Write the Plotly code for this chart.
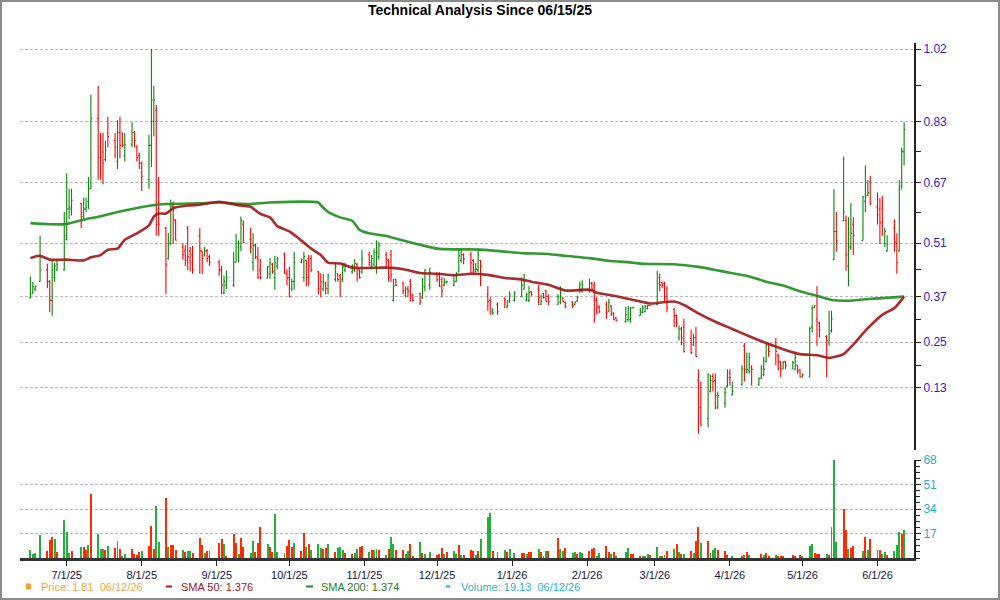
import pandas as pd
import plotly.graph_objects as go

# ---------------- data ----------------
holidays = ["2025-06-19", "2025-07-04", "2025-09-01", "2025-11-27", "2025-12-25",
            "2026-01-01", "2026-01-19", "2026-02-16", "2026-04-03", "2026-05-25"]
dates = pd.bdate_range("2025-06-16", "2026-06-12", freq="C", holidays=holidays)

opens = [
    .366, .38, .39, .41, .44, .41, .36, .42, .44, .44,  # Jun
    .52, .60, .60, .615, .58, .60, .62, .653, .838, .76, .75, .73, .80, .78, .725, .80, .80, .74, .77, .80, .765, .74,  # Jul
    .72, .677, .767, .83, .86, .60, .55, .47, .51, .607, .57, .50, .49, .55, .49, .48, .53, .49, .48, .49, .475,  # Aug
    .46, .44, .38, .40, .40, .46, .50, .50, .56, .52, .46, .505, .47, .44, .419, .43, .455, .42, .45, .48, .43,  # Sep
    .42, .39, .41, .46, .42, .465, .47, .47, .435, .43, .39, .405, .39, .415, .43, .425, .415, .44, .435, .44, .455, .44, .435,  # Oct
    .48, .45, .455, .45, .475, .48, .465, .48, .36, .415, .405, .372, .39, .41, .375, .378, .366, .395, .40,  # Nov
    .43, .43, .415, .40, .407, .40, .41, .435, .465, .48, .48, .465, .435, .44, .465, .376, .36, .325, .35, .365, .342, .356,  # Dec
    .36, .37, .39, .36, .36, .383, .39, .35, .378, .385, .37, .35, .355, .366, .355, .356, .349, .358, .382, .385,  # Jan
    .385, .405, .40, .36, .343, .35, .332, .345, .327, .314, .305, .31, .31, .34, .32, .328, .33, .338, .346,  # Feb
    .35, .42, .407, .405, .39, .336, .32, .262, .285, .29, .26, .245, .262, .15, .078, .05, .121, .16, .15, .08, .09, .135,  # Mar
    .17, .112, .14, .24, .17, .175, .185, .14, .156, .165, .20, .245, .25, .215, .20, .18, .20, .18, .18, .19, .178,  # Apr
    .159, .159, .29, .341, .311, .30, .265, .25, .28, .467, .541, .569, .57, .45, .50, .56, .517, .62, .636, .671,  # May
    .606, .60, .60, .51, .49, .55, .51, .49, .66, .75,  # Jun
]
highs = [
    .423, .409, .40, .53, .456, .413, .467, .459, .468, .592,
    .693, .653, .653, .616, .63, .63, .684, .90, .923, .80, .80, .78, .842, .80, .833, .842, .80, .80, .828, .805, .767, .748,
    .725, .795, 1.02, .923, .873, .684, .553, .537, .625, .62, .573, .51, .505, .555, .50, .503, .55, .49, .50, .495, .48,
    .467, .45, .425, .438, .488, .535, .517, .58, .57, .55, .536, .508, .50, .469, .45, .471, .459, .477, .475, .486, .442,
    .448, .417, .488, .47, .488, .467, .479, .479, .438, .43, .43, .409, .43, .459, .43, .43, .459, .459, .455, .469, .459, .442, .492,
    .488, .479, .496, .517, .513, .488, .469, .492, .417, .417, .409, .397, .397, .417, .376, .38, .419, .442, .446,
    .434, .434, .421, .419, .412, .426, .434, .496, .494, .484, .488, .469, .459, .496, .467, .397, .368, .34, .355, .368, .361, .384,
    .384, .421, .43, .38, .397, .384, .401, .376, .38, .388, .376, .376, .397, .368, .357, .357, .357, .372, .409, .413,
    .417, .409, .409, .368, .347, .357, .364, .347, .329, .315, .343, .345, .343, .343, .34, .347, .348, .348, .348,
    .438, .43, .409, .409, .397, .34, .323, .294, .29, .312, .283, .273, .29, .179, .147, .168, .165, .168, .168, .121, .132, .179,
    .179, .147, .19, .248, .223, .223, .19, .158, .19, .212, .251, .248, .262, .219, .201, .201, .201, .201, .219, .19, .179,
    .168, .29, .347, .347, .397, .304, .269, .333, .333, .652, .592, .738, .583, .578, .615, .578, .634, .714, .676, .687,
    .643, .629, .634, .55, .531, .573, .536, .676, .761, .828,
]
lows = [
    .366, .376, .384, .409, .392, .329, .32, .409, .438, .438,
    .517, .574, .583, .55, .574, .592, .60, .653, .677, .677, .665, .725, .762, .733, .705, .733, .762, .725, .762, .762, .725, .705,
    .647, .653, .71, .79, .53, .53, .376, .467, .505, .509, .517, .467, .45, .44, .436, .43, .43, .43, .475, .46, .45,
    .425, .376, .376, .39, .396, .46, .46, .49, .51, .484, .438, .469, .417, .415, .417, .417, .43, .388, .442, .43, .40,
    .368, .384, .388, .458, .409, .397, .397, .434, .376, .368, .384, .376, .376, .409, .409, .368, .409, .434, .43, .434, .409, .417, .43,
    .45, .442, .45, .43, .467, .446, .409, .409, .357, .397, .376, .368, .368, .357, .357, .348, .364, .384, .388,
    .409, .395, .368, .397, .405, .397, .409, .434, .459, .455, .43, .43, .434, .434, .397, .333, .322, .322, .322, .34, .34, .354,
    .357, .368, .388, .357, .356, .372, .347, .348, .364, .357, .347, .348, .35, .355, .34, .34, .348, .357, .38, .38,
    .38, .384, .301, .323, .326, .312, .329, .319, .308, .306, .301, .304, .301, .339, .319, .326, .329, .336, .345,
    .347, .384, .392, .357, .329, .29, .29, .255, .242, .223, .219, .24, .212, .01, .031, .027, .118, .121, .074, .074, .078, .132,
    .136, .11, .136, .147, .168, .168, .136, .136, .154, .161, .197, .212, .19, .176, .158, .179, .179, .179, .176, .168, .158,
    .158, .158, .276, .34, .241, .262, .158, .241, .276, .467, .488, .569, .438, .397, .492, .479, .517, .592, .634, .61,
    .559, .508, .531, .50, .488, .488, .43, .488, .652, .714,
]
closes = [
    .376, .396, .396, .438, .41, .36, .44, .45, .455, .53,
    .60, .605, .623, .59, .60, .605, .653, .838, .736, .736, .72, .755, .79, .762, .80, .767, .767, .768, .80, .78, .735, .72,
    .686, .767, .886, .886, .56, .56, .455, .51, .607, .573, .518, .48, .465, .475, .46, .44, .49, .47, .49, .47, .46,
    .44, .40, .41, .42, .46, .51, .51, .57, .512, .50, .505, .475, .42, .419, .448, .459, .435, .459, .469, .432, .419,
    .37, .409, .459, .467, .475, .42, .45, .44, .39, .409, .409, .392, .426, .45, .415, .409, .448, .45, .45, .457, .43, .42, .469,
    .459, .47, .485, .486, .505, .469, .42, .427, .397, .40, .385, .39, .384, .376, .36, .356, .397, .44, .434,
    .415, .397, .385, .409, .409, .409, .43, .477, .48, .469, .459, .44, .442, .48, .45, .357, .33, .329, .33, .361, .347, .375,
    .38, .40, .41, .376, .38, .375, .368, .357, .368, .358, .357, .37, .38, .357, .343, .345, .355, .368, .401, .401,
    .405, .39, .364, .34, .33, .329, .355, .325, .309, .307, .323, .34, .34, .342, .33, .34, .345, .347, .348,
    .405, .40, .40, .37, .34, .32, .30, .285, .262, .226, .223, .262, .213, .08, .032, .165, .15, .147, .11, .11, .118, .157,
    .157, .121, .18, .179, .179, .21, .179, .155, .18, .179, .241, .226, .226, .197, .18, .197, .19, .197, .21, .175, .159,
    .165, .287, .34, .346, .304, .283, .255, .273, .311, .541, .517, .592, .479, .50, .536, .531, .632, .634, .643, .615,
    .585, .564, .532, .541, .508, .513, .459, .652, .752, .809,
]
volumes = [
    5.6, 2.6, 3.3, 16.0, 4.9, 12.6, 14.4, 13.3, 4.0, 26.6,
    17.9, 3.3, 4.9, 7.5, 7.5, 5.6, 9.1, 44.7, 16.8, 6.3, 6.3, 5.6, 8.4, 6.8, 11.9, 6.3, 1.4, 2.8, 6.3, 2.8, 2.1, 4.4,
    4.9, 8.4, 22.4, 6.3, 36.3, 11.0, 41.7, 7.5, 9.1, 9.1, 5.6, 5.6, 4.0, 4.9, 4.9, 3.3, 13.7, 9.1, 3.3, 4.9, 4.9,
    10.3, 13.3, 9.6, 1.6, 16.8, 10.3, 2.8, 13.7, 7.5, 3.3, 11.9, 4.0, 10.3, 21.4, 9.6, 7.5, 4.0, 30.8, 4.0, 3.3, 8.6,
    12.6, 7.5, 10.3, 4.9, 17.2, 7.5, 9.6, 5.6, 9.6, 6.8, 6.3, 6.8, 9.6, 4.0, 6.8, 7.5, 5.6, 3.3, 2.8, 3.3, 6.3, 7.5, 8.4,
    4.0, 5.6, 5.6, 6.3, 5.6, 2.1, 6.3, 14.4, 9.6, 5.6, 5.6, 2.8, 4.9, 9.6, 1.4, 11.0, 3.3, 2.8, 4.0,
    2.1, 2.8, 6.8, 2.8, 4.0, 4.9, 2.8, 9.1, 2.1, 2.1, 5.6, 4.9, 2.1, 4.9, 13.0, 28.4, 31.2, 4.9, 4.0, 5.6, 4.0, 6.1,
    3.3, 3.3, 3.3, 2.6, 4.0, 4.0, 6.1, 4.4, 1.4, 4.9, 4.9, 13.7, 6.1, 4.9, 6.8, 3.3, 4.0, 2.6, 4.0, 3.3,
    4.9, 6.1, 6.8, 1.6, 3.3, 8.2, 4.0, 2.8, 4.0, 1.6, 4.0, 6.8, 2.6, 2.6, 1.4, 1.4, 1.4, 2.6, 2.1,
    7.5, 1.4, 1.4, 2.1, 4.9, 6.3, 9.6, 4.0, 2.6, 2.8, 4.9, 3.3, 11.9, 21.4, 10.3, 11.9, 3.3, 5.6, 6.8, 5.6, 4.9, 2.1,
    0.0, 0.9, 1.4, 2.1, 4.0, 2.1, 0.0, 0.0, 2.6, 2.1, 3.3, 1.4, 2.1, 1.4, 1.4, 1.4, 0.0, 2.1, 1.4, 0.0, 2.1,
    1.4, 8.4, 9.6, 3.7, 2.6, 2.6, 2.6, 2.1, 21.4, 68.0, 11.0, 34.0, 19.6, 6.3, 6.8, 8.2, 4.9, 14.4, 5.6, 13.0,
    5.6, 5.6, 2.8, 4.0, 2.1, 4.9, 9.1, 17.9, 16.5, 19.13,
]
# volume bar direction as coloured in the picture (g = up, r = down), one month per chunk
volume_direction = ("ggggrrrgrg" "ggrgrrgrgggrgrgrggrrrr" "grrrggrgrrrgrggrrrgrg"
                    "rrgrrrgrrggrrrgrrgggr" "rrgrrgrgggrrgrgggrrggrr" "grggrgrggrrggrrgrgg"
                    "rrrgrggrgrrrgrgggrggrg" "grrgrrgrggrrggrggrgg" "rrrggrrgrgggrrrgggr"
                    "ggrgrgrgrgrgrrgrgggrrr" "ggrgrgggrgrrgrrrgrrgr" "gggrrrgrgggrrgrrgrgr"
                    "grggrgggrg")

sma50_dates = ["2025-06-16", "2025-06-20", "2025-06-24", "2025-07-01", "2025-07-08", "2025-07-11", "2025-07-15",
               "2025-07-18", "2025-07-22", "2025-07-25", "2025-07-30", "2025-08-04", "2025-08-06", "2025-08-08",
               "2025-08-11", "2025-08-14", "2025-08-20", "2025-08-25", "2025-09-02", "2025-09-05", "2025-09-11",
               "2025-09-15", "2025-09-19", "2025-09-23", "2025-09-26", "2025-10-01", "2025-10-06", "2025-10-10",
               "2025-10-14", "2025-10-17", "2025-10-22", "2025-10-27", "2025-11-10", "2025-11-17", "2025-11-24",
               "2025-12-01", "2025-12-08", "2025-12-15", "2025-12-22", "2025-12-29", "2026-01-05", "2026-01-09",
               "2026-01-16", "2026-01-23", "2026-02-02", "2026-02-05", "2026-02-12", "2026-02-20", "2026-02-27",
               "2026-03-03", "2026-03-09", "2026-03-13", "2026-03-19", "2026-03-26", "2026-04-02", "2026-04-09",
               "2026-04-16", "2026-04-23", "2026-04-30", "2026-05-07", "2026-05-12", "2026-05-18", "2026-05-22",
               "2026-05-28", "2026-06-03", "2026-06-08", "2026-06-12"]
sma50_values = [0.471, 0.477, 0.467, 0.467, 0.465, 0.473, 0.479, 0.493, 0.496, 0.519, 0.536, 0.557, 0.58, 0.588,
                0.588, 0.602, 0.609, 0.611, 0.619, 0.616, 0.609, 0.606, 0.587, 0.578, 0.555, 0.541, 0.517, 0.496,
                0.479, 0.459, 0.457, 0.446, 0.446, 0.442, 0.432, 0.43, 0.426, 0.43, 0.427, 0.419, 0.415, 0.409,
                0.401, 0.386, 0.388, 0.38, 0.372, 0.361, 0.352, 0.354, 0.357, 0.348, 0.326, 0.304, 0.285, 0.266,
                0.248, 0.232, 0.219, 0.216, 0.209, 0.219, 0.244, 0.287, 0.322, 0.34, 0.37]

sma200_dates = ["2025-06-16", "2025-06-24", "2025-06-30", "2025-07-08", "2025-07-15", "2025-07-22", "2025-07-28",
                "2025-08-05", "2025-08-11", "2025-08-25", "2025-09-02", "2025-09-08", "2025-09-15", "2025-09-23",
                "2025-10-13", "2025-10-14", "2025-10-17", "2025-10-22", "2025-10-27", "2025-10-30", "2025-11-03",
                "2025-11-10", "2025-11-17", "2025-11-24", "2025-12-01", "2025-12-08", "2025-12-15", "2025-12-22",
                "2025-12-29", "2026-01-05", "2026-01-16", "2026-01-23", "2026-02-02", "2026-02-10", "2026-02-20",
                "2026-02-24", "2026-03-09", "2026-03-19", "2026-03-26", "2026-04-02", "2026-04-09", "2026-04-16",
                "2026-04-23", "2026-04-30", "2026-05-07", "2026-05-13", "2026-05-20", "2026-05-27", "2026-06-03",
                "2026-06-12"]
sma200_values = [0.563, 0.56, 0.56, 0.572, 0.581, 0.592, 0.60, 0.609, 0.613, 0.615, 0.617, 0.614, 0.613, 0.617,
                 0.617, 0.61, 0.592, 0.578, 0.569, 0.545, 0.536, 0.529, 0.517, 0.506, 0.496, 0.494, 0.494, 0.492,
                 0.488, 0.484, 0.482, 0.477, 0.471, 0.464, 0.459, 0.456, 0.455, 0.448, 0.44, 0.431, 0.423, 0.409,
                 0.399, 0.384, 0.372, 0.361, 0.359, 0.363, 0.366, 0.37]

price_ticks = [0.13, 0.25, 0.37, 0.51, 0.67, 0.83, 1.02]
price_minor = [0.19, 0.31, 0.44, 0.59, 0.75, 0.925]
volume_ticks = [17, 34, 51, 68]
month_ticks = ["2025-07-01", "2025-08-01", "2025-09-01", "2025-10-01", "2025-11-01", "2025-12-01",
               "2026-01-01", "2026-02-01", "2026-03-01", "2026-04-01", "2026-05-01", "2026-06-01"]
month_labels = ["7/1/25", "8/1/25", "9/1/25", "10/1/25", "11/1/25", "12/1/25",
                "1/1/26", "2/1/26", "3/1/26", "4/1/26", "5/1/26", "6/1/26"]

title_text = "Technical Analysis Since 06/15/25"
legend_price = "Price: 1.81\u00a0\u00a006/12/26"
legend_sma50 = "SMA 50: 1.376"
legend_sma200 = "SMA 200: 1.374"
legend_volume = "Volume: 19.13\u00a0\u00a006/12/26"

for name, arr in [("opens", opens), ("highs", highs), ("lows", lows), ("closes", closes),
                  ("volumes", volumes), ("volume_direction", volume_direction)]:
    if len(arr) != len(dates):
        raise ValueError(f"{name}: {len(arr)} values for {len(dates)} dates")

# ---------------- figure ----------------
FONT = "Liberation Sans, Arial, sans-serif"
W, H = 1000, 600
ML, MR, MT, MB = 20, 86, 43, 42
PW, PH = W - ML - MR, H - MT - MB


def px_x(px):
    return (px - ML) / PW


def px_y(py):
    return (H - MB - py) / PH


GREEN_BAR = "#0a870a"
RED_BAR = "#ff0000"
vol_colors = ["#22b03a" if c == "g" else "#ff2a00" for c in volume_direction]

fig = go.Figure()
fig.add_trace(go.Ohlc(
    x=dates, open=opens, high=highs, low=lows, close=closes,
    xaxis="x2", yaxis="y2", tickwidth=0.5,
    increasing=dict(line=dict(color=GREEN_BAR, width=1.1)),
    decreasing=dict(line=dict(color=RED_BAR, width=1.1)),
    showlegend=False, hoverinfo="skip",
))
fig.add_trace(go.Scatter(
    x=pd.to_datetime(sma200_dates), y=sma200_values, xaxis="x2", yaxis="y2", mode="lines",
    line=dict(color="#1f8f1f", width=2.6, shape="spline", smoothing=0.6), opacity=0.9,
    showlegend=False, hoverinfo="skip",
))
fig.add_trace(go.Scatter(
    x=pd.to_datetime(sma50_dates), y=sma50_values, xaxis="x2", yaxis="y2", mode="lines",
    line=dict(color="#a31616", width=2.6, shape="spline", smoothing=0.6), opacity=0.9,
    showlegend=False, hoverinfo="skip",
))
fig.add_trace(go.Bar(
    x=dates, y=volumes, xaxis="x", yaxis="y", marker=dict(color=vol_colors, line=dict(width=0)),
    width=0.4 * 86400000, showlegend=False, hoverinfo="skip",
))

x_range = ["2025-06-11 17:00", "2026-06-16 02:00"]
grid = dict(showgrid=True, gridcolor="#b9b9b9", gridwidth=1, griddash="3px,2px")

fig.update_layout(
    width=W, height=H,
    margin=dict(l=ML, r=MR, t=MT, b=MB),
    paper_bgcolor="white", plot_bgcolor="white",
    hovermode=False, bargap=0,
    title=dict(text=f"<b>{title_text}</b>", x=0.48, xanchor="center", y=1 - 10 / H, yanchor="middle",
               font=dict(family=FONT, size=14, color="#000000")),
    xaxis=dict(
        domain=[0, 1], anchor="y", type="date", range=x_range,
        tickmode="array", tickvals=month_ticks, ticktext=month_labels,
        ticks="outside", ticklen=5, tickwidth=1, tickcolor="#222",
        tickfont=dict(family=FONT, size=11, color="#14143c"),
        showline=True, linecolor="#333", linewidth=2.5, showgrid=False,
        rangeslider=dict(visible=False), automargin=False, zeroline=False,
    ),
    xaxis2=dict(
        domain=[0, 1], anchor="y2", type="date", range=x_range, matches="x",
        showticklabels=False, ticks="", showline=False, showgrid=False,
        rangeslider=dict(visible=False), automargin=False, zeroline=False,
    ),
    yaxis=dict(
        domain=[0, px_y(460)], anchor="x", side="right", range=[0, 68],
        tickmode="array", tickvals=volume_ticks, ticktext=[str(v) for v in volume_ticks],
        ticks="outside", ticklen=5, tickcolor="#222",
        tickfont=dict(family=FONT, size=12, color="#1fb2c4"),
        minor=dict(ticks="outside", ticklen=4, tickcolor="#222", dtick=4.25, tick0=0, showgrid=False),
        showline=True, linecolor="#222", linewidth=2, zeroline=False, automargin=False, **grid,
    ),
    yaxis2=dict(
        domain=[px_y(450), px_y(43)], anchor="x2", side="right", range=[-0.0328, 1.0358],
        tickmode="array", tickvals=price_ticks, ticktext=[f"{v:.2f}" for v in price_ticks],
        ticks="outside", ticklen=5, tickcolor="#222",
        tickfont=dict(family=FONT, size=12, color="#2d1ccc"),
        minor=dict(ticks="outside", ticklen=5, tickcolor="#222", tickmode="array", tickvals=price_minor,
                   showgrid=False),
        showline=True, linecolor="#222", linewidth=2, zeroline=False, automargin=False, **grid,
    ),
)

# outer frame
fig.add_shape(type="rect", xref="paper", yref="paper",
              x0=px_x(1), x1=px_x(999), y0=px_y(599), y1=px_y(1),
              line=dict(color="#8a8a8a", width=2), fillcolor="rgba(0,0,0,0)", layer="above")

# legend row
legend_y = px_y(586.5)
fig.add_shape(type="rect", xref="paper", yref="paper",
              x0=px_x(26), x1=px_x(31), y0=px_y(589.5), y1=px_y(583.5),
              line=dict(width=0), fillcolor="#f2a03a")
for x0, x1, col in [(166, 172, "#cc1010"), (306, 313, "#1f8f1f"), (446, 450, "#25b7c8")]:
    fig.add_shape(type="line", xref="paper", yref="paper", x0=px_x(x0), x1=px_x(x1),
                  y0=legend_y, y1=legend_y, line=dict(color=col, width=2))
for xpx, txt, col in [(39, legend_price, "#f4a448"), (179, legend_sma50, "#a0142c"),
                      (319, legend_sma200, "#2a7d2a"), (459, legend_volume, "#29b4c6")]:
    fig.add_annotation(xref="paper", yref="paper", x=px_x(xpx), y=legend_y, text=txt,
                       showarrow=False, xanchor="left", yanchor="middle",
                       font=dict(family=FONT, size=11, color=col))

fig.write_html("out.html")
